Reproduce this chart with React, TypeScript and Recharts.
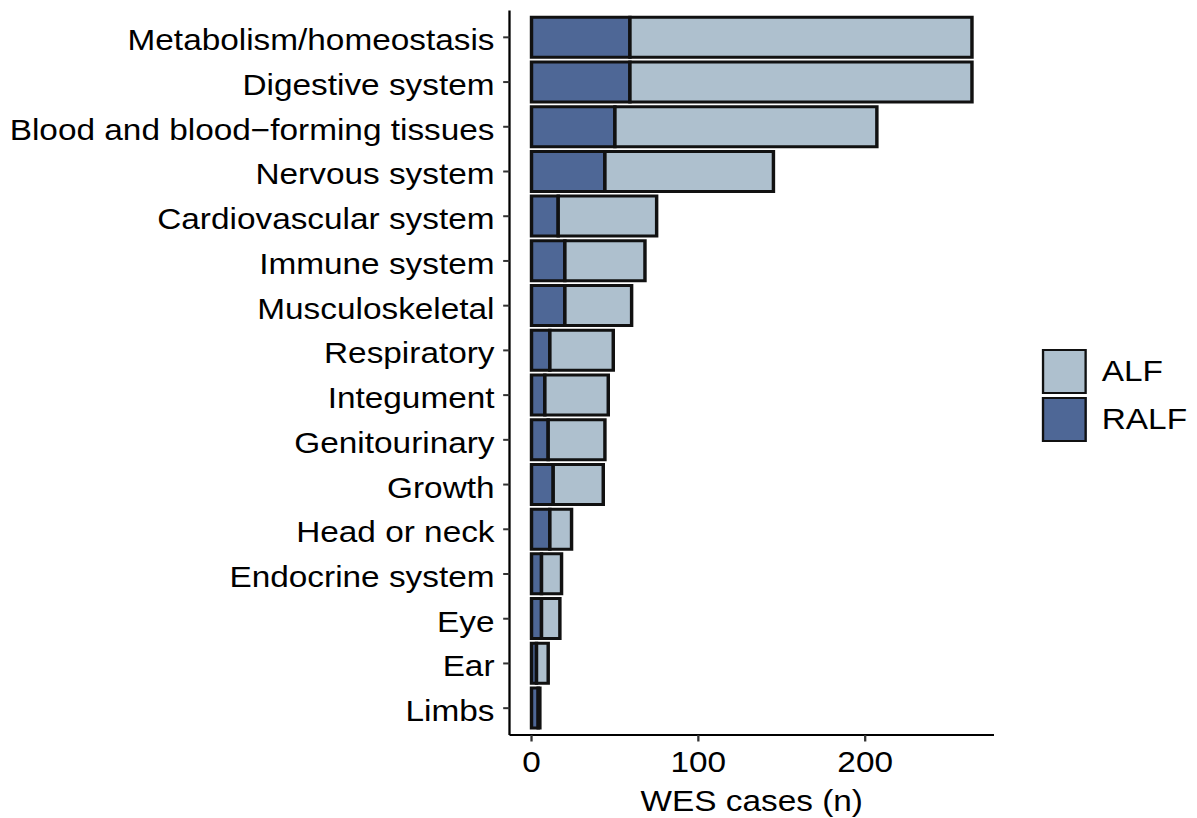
import { BarChart, Bar, XAxis, YAxis, Legend } from "recharts";

const CATEGORIES = [
  "Metabolism/homeostasis",
  "Digestive system",
  "Blood and blood\u2212forming tissues",
  "Nervous system",
  "Cardiovascular system",
  "Immune system",
  "Musculoskeletal",
  "Respiratory",
  "Integument",
  "Genitourinary",
  "Growth",
  "Head or neck",
  "Endocrine system",
  "Eye",
  "Ear",
  "Limbs",
];

// cases per organ system, RALF stacked first, ALF on top
const RALF = [59, 59, 50, 44, 16, 20, 20, 11, 8, 10, 13, 11, 6, 6, 3, 4];
const ALF = [205, 205, 157, 101, 59, 48, 40, 38, 38, 34, 30, 13, 12, 11, 7, 1];

const X_TICKS = [0, 100, 200];
const X_DOMAIN: [number, number] = [-13.2, 277.2];

const ALF_FILL = "#aec0ce";
const RALF_FILL = "#4e6796";
const OUTLINE = "#111";

const LEGEND_ITEMS = [
  { name: "ALF", fill: ALF_FILL },
  { name: "RALF", fill: RALF_FILL },
];

const FONT = "'Liberation Sans', Arial, Helvetica, sans-serif";

// figure is laid out narrower and stretched sideways to full width
const STRETCH = 1.15;
const PAGE_W = 1197;
const PAGE_H = 818;
const W = PAGE_W / STRETCH;

const data = CATEGORIES.map((name, i) => ({ name, ralf: RALF[i], alf: ALF[i] }));

const renderLegend = () => (
  <div style={{ fontFamily: FONT }}>
    {LEGEND_ITEMS.map((item) => (
      <div
        key={item.name}
        style={{ display: "flex", alignItems: "center", height: 47.5 }}
      >
        <div
          style={{
            width: 39,
            height: 45,
            boxSizing: "border-box",
            border: `2.5px solid ${OUTLINE}`,
            background: item.fill,
          }}
        />
        <span style={{ marginLeft: 13, fontSize: 29, lineHeight: "45px", color: "#000" }}>
          {item.name}
        </span>
      </div>
    ))}
  </div>
);

export default function App() {
  return (
    <div
      style={{
        position: "fixed",
        left: 0,
        top: 0,
        width: PAGE_W,
        height: PAGE_H,
        overflow: "hidden",
        background: "#fff",
        fontFamily: FONT,
      }}
    >
      <div style={{ width: W, height: PAGE_H, transform: `scaleX(${STRETCH})`, transformOrigin: "0 0" }}>
        <BarChart
          width={W}
          height={PAGE_H}
          data={data}
          layout="vertical"
          barCategoryGap="5%"
          margin={{ top: 10.5, right: W - 994 / STRETCH, bottom: 0, left: 0 }}
        >
          <XAxis
            type="number"
            domain={X_DOMAIN}
            ticks={X_TICKS}
            allowDataOverflow
            interval={0}
            height={83}
            tickSize={6.5}
            tickMargin={10}
            tick={{ fontSize: 29, fill: "#000" }}
            axisLine={{ stroke: "#000", strokeWidth: 2 }}
            tickLine={{ stroke: "#333", strokeWidth: 2 }}
            label={{
              value: "WES cases (n)",
              position: "insideBottom",
              offset: 7,
              fontSize: 29,
              fill: "#000",
            }}
          />
          <YAxis
            type="category"
            dataKey="name"
            width={509.5 / STRETCH}
            interval={0}
            padding={{ top: 4.47, bottom: 4.47 }}
            tickSize={5.5}
            tickMargin={7.5}
            tick={{ fontSize: 29, fill: "#000", dy: 2.7 }}
            axisLine={{ stroke: "#000", strokeWidth: 2 }}
            tickLine={{ stroke: "#333", strokeWidth: 2 }}
          />
          <Legend
            layout="vertical"
            align="center"
            verticalAlign="middle"
            content={renderLegend}
            wrapperStyle={{ left: 1042 / STRETCH, top: 348, width: "auto", height: "auto" }}
          />
          <Bar
            dataKey="ralf"
            name="RALF"
            stackId="cases"
            fill={RALF_FILL}
            stroke={OUTLINE}
            strokeWidth={3}
            isAnimationActive={false}
          />
          <Bar
            dataKey="alf"
            name="ALF"
            stackId="cases"
            fill={ALF_FILL}
            stroke={OUTLINE}
            strokeWidth={3}
            isAnimationActive={false}
          />
        </BarChart>
      </div>
    </div>
  );
}
